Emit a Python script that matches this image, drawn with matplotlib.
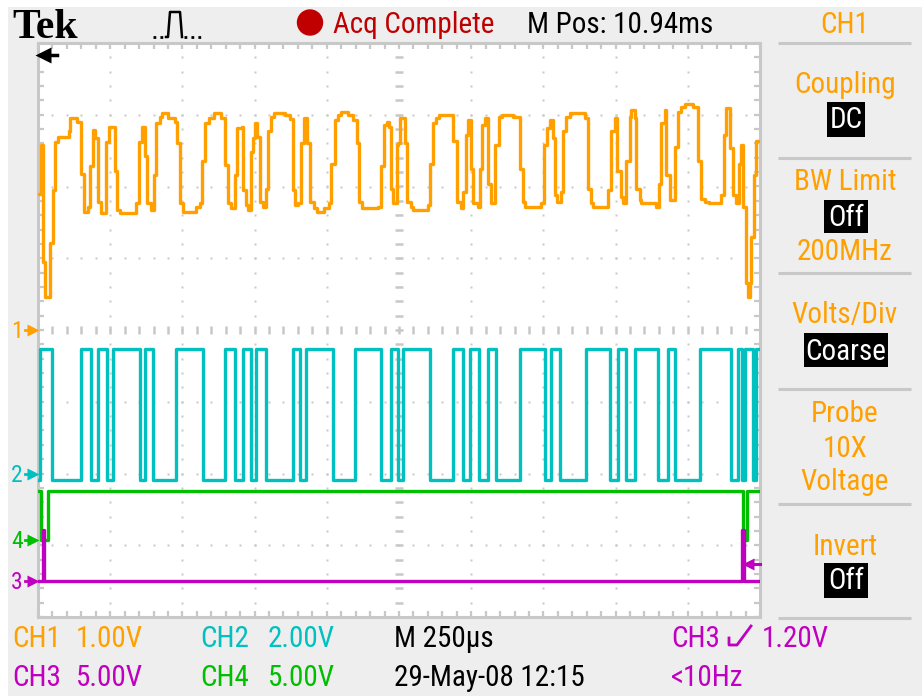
import matplotlib
matplotlib.use('Agg')
import matplotlib.pyplot as plt
import numpy as np
from matplotlib.patches import Rectangle, Circle

# ---------------- data (time in microseconds, values in volts) ----------------
# CH1 analog trace, step points (time, volts)
ch1_t = [0, 9, 17, 25, 40, 52, 60, 69, 106, 112, 136, 148, 159, 173, 181, 190, 198, 208, 219, 237,
         246, 265, 274, 283, 340, 350, 360, 369, 379, 392, 400, 410, 421, 429, 450, 473, 482, 490, 502, 548,
         560, 569, 577, 591, 608, 632, 646, 658, 667, 681, 690, 706, 710, 719, 727, 739, 746, 750, 759, 767,
         779, 789, 796, 806, 817, 856, 872, 883, 891, 902, 912, 920, 932, 943, 954, 967, 992, 1006, 1016, 1027,
         1039, 1050, 1073, 1091, 1106, 1111, 1122, 1177, 1189, 1197, 1209, 1217, 1223, 1229, 1244,
         1247, 1252, 1272, 1279, 1290, 1298, 1350, 1358, 1368, 1379, 1387, 1437, 1451, 1463, 1472, 1481,
         1489, 1498, 1506, 1523, 1529, 1537, 1549, 1558, 1570, 1583, 1595, 1607, 1645, 1668, 1679, 1687,
         1743, 1752, 1762, 1772, 1783, 1789, 1798, 1810, 1818, 1829, 1841, 1895, 1904, 1914, 1922, 1974,
         1985, 1999, 2006, 2017, 2025, 2037, 2049, 2054, 2066, 2072, 2083, 2089, 2141, 2149, 2158, 2170,
         2175, 2187, 2204, 2216, 2227, 2239, 2268, 2285, 2297, 2308, 2325, 2366, 2375, 2383, 2395, 2406,
         2418, 2426, 2435, 2441, 2452, 2458, 2464, 2470, 2479, 2487]
ch1_v = [1.90, 2.58, 0.95, 0.46, 1.21, 1.95, 2.62, 2.69, 2.77, 2.95, 2.90, 2.18, 1.65, 1.72, 2.28, 2.79, 2.67, 1.79, 1.63, 2.62,
         2.83, 2.21, 1.67, 1.63, 1.77, 2.62, 2.83, 2.42, 1.77, 1.67, 2.16, 2.88, 2.97, 3.03, 2.96, 2.90, 2.60, 1.77, 1.65, 1.72,
         1.77, 2.35, 2.88, 2.95, 3.03, 2.96, 2.30, 1.77, 1.70, 2.16, 2.81, 2.83, 1.95, 1.74, 1.67, 2.48, 2.67, 2.88, 2.69, 1.79,
         1.72, 1.97, 2.77, 2.97, 3.03, 2.99, 2.94, 1.95, 1.74, 1.77, 2.60, 2.95, 2.60, 1.79, 1.70, 1.65, 1.70, 1.77, 2.32, 2.93,
         2.99, 3.04, 2.99, 2.93, 2.60, 1.79, 1.70, 1.72, 2.28, 2.86, 2.90, 2.83, 1.96, 1.77, 2.58,
         2.60, 2.95, 2.60, 1.79, 1.72, 1.67, 1.74, 2.32, 2.88, 2.96, 2.99, 2.64, 1.79, 1.70, 1.93, 2.72,
         2.93, 2.25, 1.77, 1.72, 2.25, 2.86, 2.95, 2.04, 1.77, 2.58, 2.97, 3.00, 2.97, 2.25, 1.79, 1.72,
         1.77, 2.58, 2.81, 2.93, 2.67, 1.88, 1.79, 1.93, 2.77, 2.97, 3.03, 2.95, 1.97, 1.77, 1.72, 1.95,
         2.77, 2.95, 2.22, 1.86, 1.77, 2.35, 2.97, 3.06, 2.95, 1.96, 1.81, 1.77, 1.72, 2.04, 2.88, 3.06,
         2.16, 1.81, 2.55, 3.04, 3.11, 3.15, 3.11, 2.35, 1.83, 1.79, 1.77, 1.88, 2.72, 3.09, 2.53, 1.88,
         1.77, 2.32, 2.58, 1.72, 0.65, 0.46, 0.65, 1.30, 2.16, 2.64]

# CH2 digital trace: edge times (starts low, toggles at each edge)
ch2_edges = [7, 48, 149, 184, 208, 239, 260, 353, 370, 398, 478, 571, 648, 682, 710, 738, 755, 789,
             883, 907, 928, 1021, 1098, 1188, 1222, 1247, 1264, 1357, 1437, 1472, 1496, 1527, 1558, 1586,
             1669, 1756, 1776, 1807, 1898, 1981, 2008, 2036, 2067, 2147, 2181, 2206, 2292, 2400, 2424,
             2438, 2448, 2476, 2486]
ch2_high, ch2_low = 3.46, -0.17

# CH4 and CH3 step traces (time, volts)
ch4_t = [0, 10, 36, 2440, 2455]
ch4_v = [3.41, 0.0, 3.41, 0.0, 3.41]
ch3_t = [0, 17, 21, 2438, 2446]
ch3_v = [0.0, 3.55, 0.0, 3.55, 0.0]

t_end = 2500          # 10 div x 250 us
ch3_trigger = 1.20    # trigger level (V)

# channel settings: volts/div and ground offset (div)
vdiv = {'1': 1.0, '2': 2.0, '3': 5.0, '4': 5.0}
offs = {'1': 0.0, '2': -2.0, '3': -3.5, '4': -2.93}

# ---------------- styling ----------------
ORANGE = '#FFA000'
CYAN = '#00C0C0'
GREEN = '#00BE00'
MAGENTA = '#C000C0'
RED = '#C00000'
GRID = '#C8C8C8'
BG = '#EEEEEE'
FONT = ['Roboto Condensed', 'DejaVu Sans']
FS = 21

W, H = 922, 696
fig = plt.figure(figsize=(W / 100, H / 100), dpi=100, facecolor='white')

bg = fig.add_axes([0, 0, 1, 1], zorder=0)
bg.set_xlim(0, W); bg.set_ylim(H, 0); bg.axis('off')
bg.add_patch(Rectangle((8, 7), W - 8, H - 7, facecolor=BG, edgecolor='none'))

GX0, GX1, GY0, GY1 = 38, 760, 43, 617
ax = fig.add_axes([GX0 / W, 1 - GY1 / H, (GX1 - GX0) / W, (GY1 - GY0) / H], zorder=1)
ax.set_facecolor('white')
ax.set_xlim(0, t_end); ax.set_ylim(-4, 4)
for s in ax.spines.values():
    s.set_color(GRID); s.set_linewidth(2.2)
ax.set_xticks(np.arange(0, t_end + 1, 50))
ax.set_yticks(np.arange(-4, 4.001, 0.2))
ax.tick_params(direction='in', length=4, width=1.6, color=GRID, top=True, right=True,
               labelbottom=False, labelleft=False)

# graticule dots
ydots = np.arange(-3.8, 3.81, 0.2)
xdots = np.arange(50, t_end, 50)
for k in range(1, 10):
    if k == 5:
        ax.plot(np.full_like(ydots, 250 * k), ydots, ls='none', marker='_', ms=5.8, mew=1.8, color=GRID, zorder=1)
    else:
        ax.plot(np.full_like(ydots, 250 * k), ydots, ls='none', marker='s', ms=1.8, mec='none', color=GRID, zorder=1)
for k in range(-3, 4):
    if k == 0:
        ax.plot(xdots, np.zeros_like(xdots), ls='none', marker='|', ms=5.8, mew=1.8, color=GRID, zorder=1)
    else:
        ax.plot(xdots, np.full(len(xdots), float(k)), ls='none', marker='s', ms=1.8, mec='none', color=GRID, zorder=1)

LW = 2.4
def to_div(v, ch):
    return np.asarray(v) / vdiv[ch] + offs[ch]

# CH2
t2 = [0] + ch2_edges + [t_end]
v2 = [ch2_low]
for i in range(len(ch2_edges)):
    v2.append(ch2_high if i % 2 == 0 else ch2_low)
v2.append(v2[-1])
ax.step(t2, to_div(v2, '2'), where='post', color=CYAN, lw=LW, zorder=3)
# CH4
ax.step(ch4_t + [t_end], to_div(ch4_v + [ch4_v[-1]], '4'), where='post', color=GREEN, lw=LW, zorder=4)
# CH3
ax.step(ch3_t + [t_end], to_div(ch3_v + [ch3_v[-1]], '3'), where='post', color=MAGENTA, lw=LW, zorder=5)
# CH1
ax.step(ch1_t + [t_end], to_div(ch1_v + [ch1_v[-1]], '1'), where='post', color=ORANGE, lw=LW, zorder=6)

# ---------------- overlay (pixel coordinates) ----------------
ov = fig.add_axes([0, 0, 1, 1], zorder=3)
ov.set_xlim(0, W); ov.set_ylim(H, 0); ov.axis('off'); ov.patch.set_alpha(0)
div_px = (GY1 - GY0) / 8.0
def ypx(div):
    return GY0 + (4 - div) * div_px

# channel ground markers
for ch, col in [('1', ORANGE), ('2', CYAN), ('4', GREEN), ('3', MAGENTA)]:
    y = ypx(offs[ch])
    ov.text(17, y + 8, ch, color=col, fontsize=17, family=FONT, ha='center', va='baseline')
    ov.plot([25, 31], [y, y], color=col, lw=2)
    ov.plot([32.5], [y], marker='>', ms=8, color=col, mec='none')

# trigger position arrow (top-left)
ov.plot([45, 57], [55, 55], color='black', lw=2.5)
ov.plot([43], [55], marker='<', ms=11, color='black', mec='none')
# trigger level arrow (right)
yt = ypx(offs['3'] + ch3_trigger / vdiv['3'])
ov.plot([750, 760], [yt, yt], color=MAGENTA, lw=2.2)
ov.plot([748], [yt], marker='<', ms=9, color=MAGENTA, mec='none')

# top bar
ov.text(12, 38, 'Tek', family=['Liberation Serif', 'DejaVu Serif'], weight='bold', fontsize=30, color='black')
ov.plot([153, 166], [37, 37], color='black', lw=2, ls=(0, (1, 1.5)))
ov.plot([166, 168, 170, 180, 182], [37, 37, 12, 12, 37], color='black', lw=1.8)
ov.plot([184, 204], [37, 37], color='black', lw=2, ls=(0, (1, 1.5)))
ov.add_patch(Circle((310, 22.5), 12.5, color=RED))
ov.text(333, 33, 'Acq Complete', color=RED, fontsize=FS, family=FONT)
ov.text(527, 33, 'M Pos: 10.94ms', color='black', fontsize=FS, family=FONT)
ov.text(845, 33, 'CH1', color=ORANGE, fontsize=FS, family=FONT, ha='center')

# right menu
for ys in [43, 158, 273, 389, 504, 618]:
    ov.plot([778, 911], [ys, ys], color=GRID, lw=2.2, solid_capstyle='butt')
CX = 845
menu = [('Coupling', 93), ('BW Limit', 190), ('200MHz', 260), ('Volts/Div', 323),
        ('Probe', 422), ('10X', 457), ('Voltage', 490), ('Invert', 555)]
for txt, yb in menu:
    ov.text(CX, yb, txt, color=ORANGE, fontsize=FS, family=FONT, ha='center', va='baseline')
boxes = [('DC', 827, 102, 865, 137, 128), ('Off', 824, 200, 868, 233, 226),
         ('Coarse', 804, 333, 888, 367, 360), ('Off', 824, 563, 868, 598, 589)]
for txt, x0, y0, x1, y1, yb in boxes:
    ov.add_patch(Rectangle((x0, y0), x1 - x0, y1 - y0, facecolor='black', edgecolor='none'))
    ov.text((x0 + x1) / 2, yb, txt, color='white', fontsize=FS, family=FONT, ha='center', va='baseline')

# bottom status
r1, r2 = 647, 686
bottom = [('CH1', 12, r1, ORANGE), ('1.00V', 76, r1, ORANGE),
          ('CH2', 200, r1, CYAN), ('2.00V', 268, r1, CYAN),
          ('M 250\u00b5s', 394, r1, 'black'),
          ('CH3', 671, r1, MAGENTA), ('1.20V', 762, r1, MAGENTA),
          ('CH3', 12, r2, MAGENTA), ('5.00V', 76, r2, MAGENTA),
          ('CH4', 200, r2, GREEN), ('5.00V', 268, r2, GREEN),
          ('29-May-08 12:15', 394, r2, 'black'),
          ('<10Hz', 671, r2, MAGENTA)]
for txt, x, y, col in bottom:
    ov.text(x, y, txt, color=col, fontsize=FS, family=FONT, ha='left', va='baseline')
# rising-edge trigger slope symbol
ov.plot([729, 729, 737, 751], [638, 645, 645, 626], color=MAGENTA, lw=2)

fig.savefig('out.png', dpi=100, facecolor='white')
